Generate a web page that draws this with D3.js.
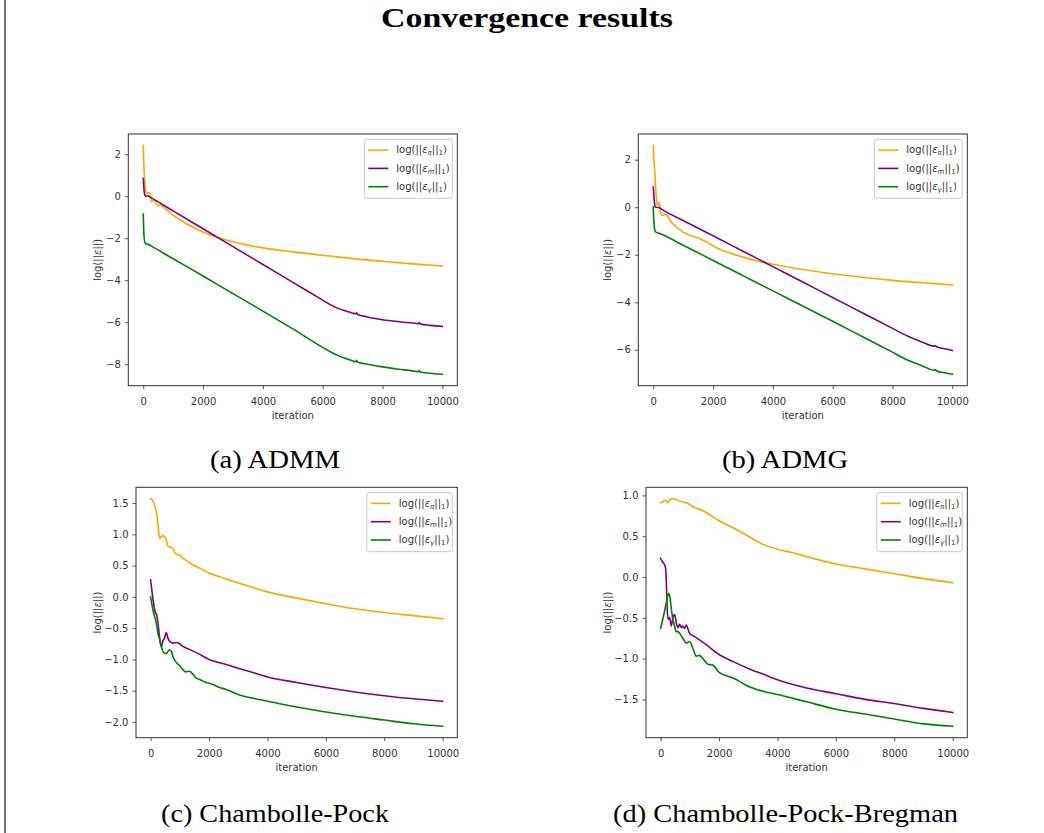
<!DOCTYPE html>
<html>
<head>
<meta charset="utf-8">
<script src="https://cdn.jsdelivr.net/npm/d3@7"></script>
<style>
  html, body { margin: 0; padding: 0; background: #fff; }
  svg { display: block; }
</style>
</head>
<body>
<svg id="chart" width="1044" height="833"></svg>
<script>
// ---------------- DATA ----------------
const xTicks = [0, 2000, 4000, 6000, 8000, 10000];
const seriesNames = ["pi", "m", "gamma"];
const subscripts = ["π", "m", "γ"];
const captions = ["(a) ADMM", "(b) ADMG", "(c) Chambolle-Pock", "(d) Chambolle-Pock-Bregman"];
const titleText = "Convergence results";

const yTicksADMM = [-8, -6, -4, -2, 0, 2];
const yTicksADMG = [-6, -4, -2, 0, 2];
const yTicksCP = [-2.0, -1.5, -1.0, -0.5, 0.0, 0.5, 1.0, 1.5];
const yTicksCPB = [-1.5, -1.0, -0.5, 0.0, 0.5, 1.0];

// ADMM
const admmPi = [[0,2.42],[20,1.5],[45,0.8],[70,0.35],[100,0.2],[130,0.12],[170,0.18],[210,0.15],[250,-0.05],[280,-0.25],[330,-0.22],[390,-0.2],[440,-0.35],[500,-0.45],[560,-0.4],[670,-0.52],[1000,-0.9],[1500,-1.36],[2000,-1.7],[2500,-1.97],[3000,-2.17],[3500,-2.33],[4000,-2.46],[5000,-2.65],[6000,-2.81],[7000,-2.97],[8000,-3.1],[9000,-3.22],[10000,-3.32]];
const admmM = [[0,0.85],[15,0.5],[35,0.2],[60,0.05],[90,0.0],[150,0.02],[200,-0.02],[300,-0.1],[1000,-0.7],[2000,-1.55],[3000,-2.4],[4000,-3.25],[5000,-4.1],[6000,-4.95],[6300,-5.2],[6500,-5.33],[6800,-5.48],[7000,-5.57],[7100,-5.6],[7130,-5.55],[7160,-5.62],[7500,-5.75],[8000,-5.88],[8500,-5.97],[9000,-6.04],[9200,-6.07],[9230,-6.02],[9260,-6.08],[9600,-6.15],[10000,-6.2]];
const admmGamma = [[0,-0.85],[15,-1.6],[35,-2.05],[60,-2.2],[90,-2.27],[150,-2.28],[300,-2.4],[1000,-2.98],[2000,-3.8],[3000,-4.64],[4000,-5.47],[5000,-6.32],[6000,-7.2],[6300,-7.44],[6500,-7.58],[6800,-7.74],[7000,-7.84],[7100,-7.88],[7130,-7.82],[7160,-7.9],[7500,-8.0],[8000,-8.13],[8500,-8.23],[9000,-8.32],[9200,-8.36],[9230,-8.3],[9260,-8.37],[9600,-8.43],[10000,-8.48]];

// ADMG
const admgPi = [[0,2.6],[20,2.0],[55,1.4],[90,0.6],[110,0.28],[130,0.12],[150,0.1],[180,0.15],[200,0.2],[220,0.05],[250,-0.28],[330,-0.35],[380,-0.3],[445,-0.32],[500,-0.42],[560,-0.55],[700,-0.75],[1000,-1.05],[1500,-1.3],[1800,-1.47],[2000,-1.62],[2200,-1.76],[2500,-1.9],[3000,-2.1],[3500,-2.27],[4000,-2.4],[5000,-2.62],[6000,-2.8],[7000,-2.95],[8000,-3.08],[9000,-3.18],[10000,-3.27]];
const admgM = [[0,0.85],[20,0.5],[45,0.15],[70,0.0],[110,0.0],[200,-0.02],[300,-0.1],[1000,-0.56],[2000,-1.2],[3000,-1.85],[4000,-2.5],[5000,-3.15],[6000,-3.8],[7000,-4.45],[8000,-5.1],[8500,-5.42],[9000,-5.68],[9400,-5.85],[9430,-5.82],[9470,-5.87],[9700,-5.95],[10000,-6.03]];
const admgGamma = [[0,0.02],[15,-0.5],[35,-0.85],[60,-1.0],[90,-1.05],[200,-1.1],[1000,-1.6],[2000,-2.24],[3000,-2.88],[4000,-3.52],[5000,-4.16],[6000,-4.8],[7000,-5.45],[8000,-6.1],[8500,-6.43],[9000,-6.68],[9400,-6.86],[9430,-6.83],[9470,-6.88],[9700,-6.96],[10000,-7.03]];

// Chambolle-Pock
const cpPi = [[0,1.57],[80,1.54],[140,1.46],[195,1.36],[250,1.17],[310,0.93],[365,0.96],[420,0.98],[480,0.96],[540,0.9],[595,0.81],[670,0.8],[760,0.77],[880,0.68],[990,0.67],[1100,0.62],[1220,0.58],[1450,0.51],[1680,0.46],[2000,0.38],[2500,0.3],[3000,0.22],[3500,0.15],[4000,0.08],[5000,-0.02],[6000,-0.11],[7000,-0.19],[8000,-0.25],[9000,-0.3],[10000,-0.35]];
const cpM = [[0,0.27],[55,0.06],[100,-0.1],[150,-0.23],[185,-0.27],[215,-0.3],[260,-0.45],[320,-0.7],[370,-0.8],[420,-0.7],[480,-0.66],[535,-0.57],[595,-0.66],[650,-0.71],[760,-0.74],[880,-0.73],[990,-0.75],[1100,-0.79],[1330,-0.84],[1680,-0.92],[2000,-1.0],[2500,-1.07],[3000,-1.14],[3500,-1.21],[4000,-1.28],[5000,-1.37],[6000,-1.45],[7000,-1.52],[8000,-1.58],[9000,-1.63],[10000,-1.67]];
const cpGamma = [[0,0.0],[80,-0.21],[195,-0.42],[250,-0.58],[310,-0.68],[365,-0.79],[420,-0.87],[480,-0.9],[535,-0.91],[595,-0.87],[650,-0.85],[710,-0.87],[760,-0.95],[880,-1.05],[990,-1.1],[1100,-1.16],[1200,-1.2],[1330,-1.19],[1450,-1.24],[1560,-1.3],[1680,-1.32],[1850,-1.36],[2000,-1.38],[2130,-1.4],[2360,-1.45],[2590,-1.48],[3000,-1.56],[3500,-1.62],[4000,-1.67],[5000,-1.76],[6000,-1.84],[7000,-1.91],[8000,-1.97],[9000,-2.03],[10000,-2.07]];

// Chambolle-Pock-Bregman
const cpbPi = [[0,0.91],[80,0.92],[140,0.94],[195,0.93],[250,0.91],[310,0.94],[365,0.96],[445,0.96],[535,0.95],[650,0.93],[880,0.91],[990,0.89],[1160,0.85],[1330,0.83],[1560,0.79],[2000,0.69],[2500,0.6],[3000,0.5],[3500,0.4],[4000,0.34],[4500,0.3],[5000,0.25],[6000,0.16],[7000,0.1],[8000,0.04],[9000,-0.02],[10000,-0.07]];
const cpbM = [[0,0.23],[55,0.19],[135,0.15],[170,0.11],[200,-0.1],[235,-0.45],[275,-0.52],[310,-0.5],[365,-0.6],[420,-0.5],[480,-0.46],[535,-0.56],[595,-0.62],[650,-0.58],[710,-0.62],[760,-0.6],[820,-0.63],[880,-0.59],[990,-0.69],[1160,-0.73],[1330,-0.77],[1560,-0.83],[2000,-0.95],[2500,-1.04],[3000,-1.12],[3500,-1.19],[4000,-1.26],[5000,-1.36],[6000,-1.43],[7000,-1.5],[8000,-1.55],[9000,-1.61],[10000,-1.66]];
const cpbGamma = [[0,-0.63],[135,-0.42],[215,-0.28],[275,-0.2],[310,-0.23],[365,-0.38],[420,-0.52],[480,-0.6],[535,-0.67],[595,-0.67],[650,-0.69],[760,-0.75],[880,-0.81],[990,-0.79],[1100,-0.87],[1220,-0.97],[1330,-0.96],[1450,-1.0],[1620,-1.07],[1790,-1.08],[2000,-1.17],[2500,-1.24],[2800,-1.3],[3000,-1.34],[3500,-1.4],[4000,-1.44],[5000,-1.53],[6000,-1.62],[7000,-1.68],[8000,-1.74],[9000,-1.8],[10000,-1.83]];

// ---------------- LAYOUT / STYLE ----------------
const colors = ["#ffa500", "#800080", "#008000"];
const panels = [
  { series: [admmPi, admmM, admmGamma], yTicks: yTicksADMM, fmt: d3.format("d"),
    box: { l: 128.3, t: 134, r: 457.3, b: 385.7 }, ylabX: 97.5, capX: 275, capY: 468, capW: 130 },
  { series: [admgPi, admgM, admgGamma], yTicks: yTicksADMG, fmt: d3.format("d"),
    box: { l: 638.3, t: 134, r: 967.3, b: 385.7 }, ylabX: 607.5, capX: 785, capY: 468, capW: 126 },
  { series: [cpPi, cpM, cpGamma], yTicks: yTicksCP, fmt: d3.format(".1f"),
    box: { l: 136, t: 487.3, r: 457.3, b: 737.7 }, ylabX: 97, capX: 275, capY: 822, capW: 228 },
  { series: [cpbPi, cpbM, cpbGamma], yTicks: yTicksCPB, fmt: d3.format(".1f"),
    box: { l: 646, t: 487.3, r: 967.3, b: 737.7 }, ylabX: 607, capX: 785.5, capY: 822, capW: 345 }
];

const svg = d3.select("#chart");
const sansFont = "'DejaVu Sans', sans-serif";
const serifFont = "'Liberation Serif', 'DejaVu Serif', serif";
const minus = s => s.replace("-", "\u2212");

// left page border
svg.append("line").attr("x1", 5).attr("x2", 5).attr("y1", 0).attr("y2", 833)
  .attr("stroke", "#555").attr("stroke-width", 1.6);

// title
svg.append("text").attr("x", 527).attr("y", 27).attr("text-anchor", "middle")
  .attr("font-family", serifFont).attr("font-weight", "bold").attr("font-size", 27)
  .attr("textLength", 292).attr("lengthAdjust", "spacingAndGlyphs")
  .attr("fill", "#000").text(titleText);

function mathLabel(sel, sub, size) {
  sel.append("tspan").text("log(||");
  sel.append("tspan").attr("font-style", "italic").text("ε");
  if (sub !== null) {
    sel.append("tspan").attr("font-style", "italic").attr("font-size", size * 0.7)
      .attr("dy", size * 0.18).text(sub);
    sel.append("tspan").attr("dy", -size * 0.18).text("||");
    sel.append("tspan").attr("font-size", size * 0.7).attr("dy", size * 0.18).text("1");
    sel.append("tspan").attr("dy", -size * 0.18).text(")");
  } else {
    sel.append("tspan").text("||)");
  }
}

panels.forEach((p, i) => {
  const B = p.box;
  const all = p.series.flat();
  const ext = d3.extent(all, d => d[1]);
  const pad = (ext[1] - ext[0]) * 0.05;
  const x = d3.scaleLinear().domain([-500, 10500]).range([B.l, B.r]);
  const y = d3.scaleLinear().domain([ext[0] - pad, ext[1] + pad]).range([B.b, B.t]);

  const g = svg.append("g");
  const clipId = "clip" + i;
  g.append("clipPath").attr("id", clipId).append("rect")
    .attr("x", B.l).attr("y", B.t).attr("width", B.r - B.l).attr("height", B.b - B.t);

  const line = d3.line().x(d => x(d[0])).y(d => y(d[1])).curve(d3.curveMonotoneX);
  p.series.forEach((s, k) => {
    g.append("path").datum(s).attr("d", line).attr("fill", "none")
      .attr("stroke", colors[k]).attr("stroke-width", 1.6)
      .attr("stroke-linejoin", "round").attr("stroke-linecap", "square")
      .attr("clip-path", `url(#${clipId})`);
  });

  const xAxis = d3.axisBottom(x).tickValues(xTicks).tickSize(3.5).tickPadding(5).tickFormat(d3.format("d"));
  const yAxis = d3.axisLeft(y).tickValues(p.yTicks).tickSize(3.5).tickPadding(4).tickFormat(d => minus(p.fmt(d)));
  const gx = g.append("g").attr("transform", `translate(0,${B.b})`).call(xAxis);
  const gy = g.append("g").attr("transform", `translate(${B.l},0)`).call(yAxis);
  [gx, gy].forEach(a => {
    a.select(".domain").remove();
    a.selectAll(".tick line").attr("stroke", "#333").attr("stroke-width", 0.8);
    a.selectAll(".tick text").attr("font-family", sansFont).attr("font-size", 10).attr("fill", "#333");
  });
  gx.selectAll(".tick text").attr("dy", "1.05em");

  g.append("rect").attr("x", B.l).attr("y", B.t).attr("width", B.r - B.l).attr("height", B.b - B.t)
    .attr("fill", "none").attr("stroke", "#333").attr("stroke-width", 1);

  g.append("text").attr("x", (B.l + B.r) / 2).attr("y", B.b + 33).attr("text-anchor", "middle")
    .attr("font-family", sansFont).attr("font-size", 10).attr("fill", "#333").text("iteration");
  const yl = g.append("text")
    .attr("transform", `translate(${p.ylabX},${(B.t + B.b) / 2}) rotate(-90)`)
    .attr("text-anchor", "middle").attr("dy", "0.35em")
    .attr("font-family", sansFont).attr("font-size", 10).attr("fill", "#333");
  mathLabel(yl, null, 10);

  const lw = i < 2 ? 88 : 85.5;
  const lx = B.r - 5 - lw, ly = B.t + 5.3;
  const lg = g.append("g");
  lg.append("rect").attr("x", lx).attr("y", ly).attr("width", lw).attr("height", 59)
    .attr("rx", 2.5).attr("fill", "#fff").attr("fill-opacity", 0.8)
    .attr("stroke", "#cccccc").attr("stroke-width", 1);
  seriesNames.forEach((nm, k) => {
    const cy = ly + 10.8 + k * 18.3;
    lg.append("line").attr("x1", lx + 4).attr("x2", lx + 24).attr("y1", cy).attr("y2", cy)
      .attr("stroke", colors[k]).attr("stroke-width", 1.6);
    const t = lg.append("text").attr("x", lx + 32).attr("y", cy + 3.3)
      .attr("font-family", sansFont).attr("font-size", 10).attr("fill", "#333");
    mathLabel(t, subscripts[k], 10);
  });

  svg.append("text").attr("x", p.capX).attr("y", p.capY).attr("text-anchor", "middle")
    .attr("font-family", serifFont).attr("font-size", 25)
    .attr("textLength", p.capW).attr("lengthAdjust", "spacingAndGlyphs")
    .attr("fill", "#000").text(captions[i]);
});
</script>
</body>
</html>
